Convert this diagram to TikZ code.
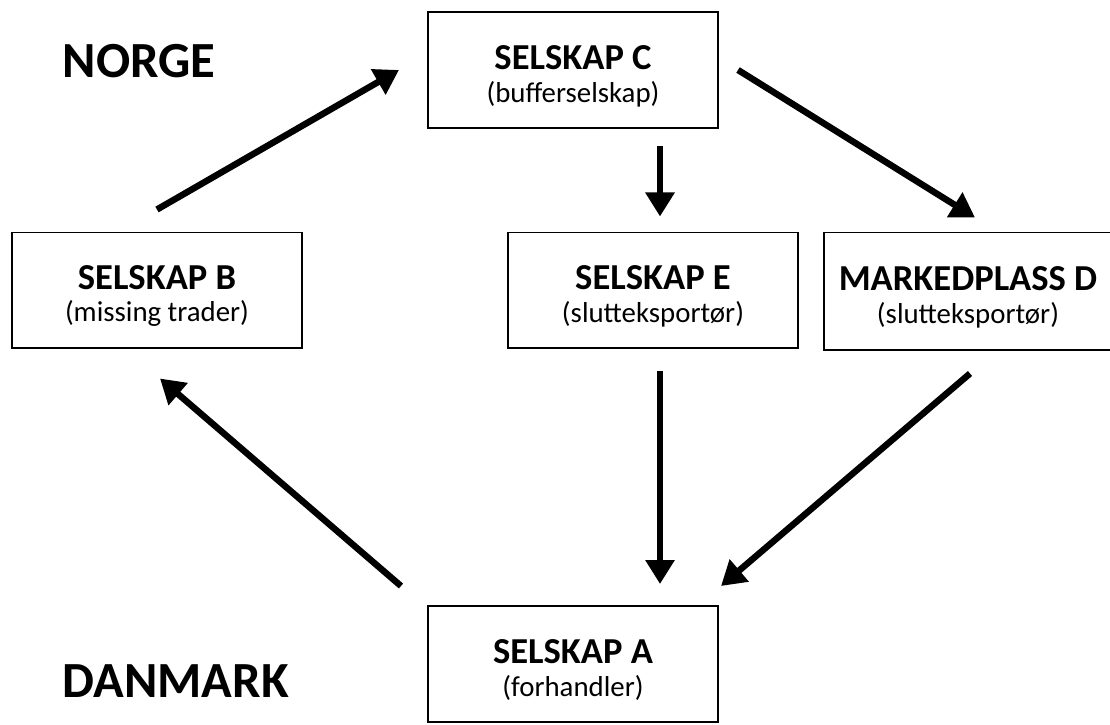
\documentclass[tikz,border=0pt]{standalone}
\usepackage{fontspec}
\setmainfont{Carlito}
\usetikzlibrary{calc,arrows.meta}

\tikzset{
  box/.style={draw,line width=1.4pt,minimum width=7.25cm,minimum height=2.9cm,
    align=center,font=\fontsize{20.5}{23.4}\selectfont},
  flow/.style={line width=4.6pt,-{Triangle[length=0.6cm,width=0.7cm]}},
  land/.style={anchor=west,font=\fontsize{36}{40}\selectfont\bfseries}
}
\newcommand{\firma}[2]{{\fontsize{26}{23.4}\selectfont\bfseries\rule{0pt}{0.9cm}#1}\\#2}

\begin{document}
\begin{tikzpicture}[x=0.025cm,y=-0.025cm]
    \useasboundingbox (0,0) rectangle (1110,724);
    % boxes
    \node[box] (C) at (573,70) {\firma{SELSKAP C}{(bufferselskap)}};
    \node[box,minimum height=2.875cm] (B) at (157,290) {\firma{SELSKAP B}{(missing trader)}};
    \node[box,minimum height=2.875cm] (E) at (653,290) {\firma{SELSKAP E}{(slutteksportør)}};
    \node[box,minimum width=7.2cm,minimum height=2.925cm] (D) at (968,291) {\firma{MARKEDPLASS D}{(slutteksportør)}};
    \node[box] (A) at (573,664) {\firma{SELSKAP A}{(forhandler)}};
    \node[land] (norge) at (58,61) {NORGE};
    \node[land] (danmark) at (58,681) {DANMARK};
    % flows
    \draw[flow] ($(B.north)+(0,-22)$) -- ($(C.west)+(-28,0)$);
    \draw[flow] ($(C.south)+(87,17)$) -- ($(E.north)+(7,-15)$);
    \draw[flow] ($(C.east)+(19,0)$) -- ($(D.north)+(7,-14)$);
    \draw[flow] ($(E.south)+(7,22)$) -- ($(A.north)+(87,-21)$);
    \draw[flow] ($(D.south)+(2,23)$) -- ($(A.north east)+(2,-19)$);
    \draw[flow] ($(A.north west)+(-26,-19)$) -- ($(B.south)+(3,30)$);
\end{tikzpicture}
\end{document}
